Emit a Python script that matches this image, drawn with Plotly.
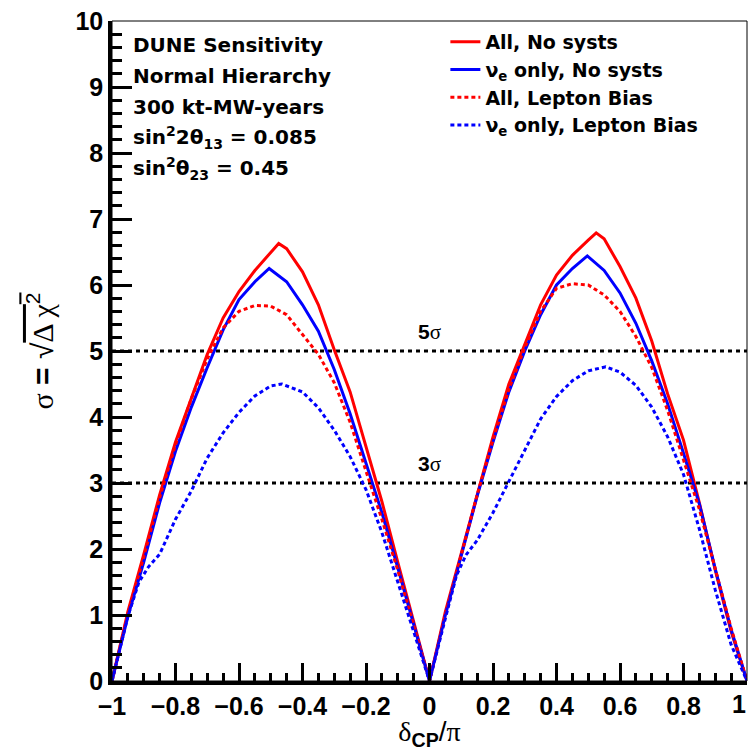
import plotly.graph_objects as go

# ---------------- data ----------------
x_all_nosyst = [-1, -0.95, -0.9, -0.85, -0.8, -0.75, -0.7, -0.65, -0.6, -0.55, -0.5, -0.475, -0.45, -0.4,
                -0.35, -0.3, -0.25, -0.2, -0.15, -0.1, -0.05, 0,
                0.05, 0.1, 0.15, 0.2, 0.25, 0.3, 0.35, 0.4, 0.45, 0.5, 0.525, 0.55, 0.6, 0.65, 0.7, 0.75,
                0.8, 0.85, 0.9, 0.95, 1]
y_all_nosyst = [0, 1.05, 1.92, 2.82, 3.62, 4.3, 4.95, 5.5, 5.9, 6.22, 6.5, 6.63, 6.55, 6.2,
                5.7, 5.02, 4.38, 3.55, 2.72, 1.8, 0.9, 0,
                1.05, 1.93, 2.85, 3.7, 4.5, 5.1, 5.7, 6.15, 6.45, 6.68, 6.79, 6.7, 6.28, 5.8, 5.15, 4.35,
                3.65, 2.7, 1.68, 0.75, 0]

x_nue_nosyst = [-1, -0.95, -0.9, -0.85, -0.8, -0.75, -0.7, -0.65, -0.6, -0.55, -0.505, -0.45, -0.4,
                -0.35, -0.3, -0.25, -0.2, -0.15, -0.1, -0.05, 0,
                0.05, 0.1, 0.15, 0.2, 0.25, 0.3, 0.35, 0.4, 0.45, 0.497, 0.55, 0.6, 0.65, 0.7, 0.75,
                0.8, 0.85, 0.9, 0.95, 1]
y_nue_nosyst = [0, 0.98, 1.8, 2.7, 3.48, 4.15, 4.75, 5.32, 5.78, 6.05, 6.25, 6.05, 5.7,
                5.3, 4.72, 4.05, 3.3, 2.55, 1.72, 0.86, 0,
                1.0, 1.88, 2.8, 3.62, 4.38, 5.0, 5.55, 6.0, 6.25, 6.44, 6.22, 5.88, 5.42, 4.85, 4.2,
                3.45, 2.68, 1.7, 0.78, 0]

x_all_lepbias = [-1, -0.95, -0.9, -0.85, -0.8, -0.75, -0.7, -0.65, -0.6, -0.55, -0.5, -0.45, -0.4,
                 -0.35, -0.3, -0.25, -0.2, -0.15, -0.1, -0.05, 0,
                 0.05, 0.1, 0.15, 0.2, 0.25, 0.3, 0.35, 0.4, 0.45, 0.5, 0.55, 0.6, 0.65, 0.7, 0.75,
                 0.8, 0.85, 0.9, 0.95, 1]
y_all_lepbias = [0, 1.02, 1.88, 2.78, 3.58, 4.28, 4.88, 5.35, 5.6, 5.69, 5.68, 5.55, 5.25,
                 4.95, 4.52, 3.92, 3.18, 2.45, 1.68, 0.85, 0,
                 1.0, 1.9, 2.82, 3.65, 4.42, 5.05, 5.6, 5.95, 6.02, 6.0, 5.85, 5.6, 5.22, 4.75, 4.1,
                 3.35, 2.6, 1.7, 0.8, 0]

x_nue_lepbias = [-1, -0.95, -0.915, -0.885, -0.85, -0.8, -0.75, -0.7, -0.65, -0.6, -0.55, -0.5, -0.465,
                 -0.4, -0.35, -0.3, -0.25, -0.2, -0.15, -0.1, -0.05, 0,
                 0.05, 0.085, 0.115, 0.15, 0.2, 0.25, 0.3, 0.35, 0.4, 0.45, 0.5, 0.555, 0.6, 0.65,
                 0.7, 0.75, 0.8, 0.85, 0.9, 0.95, 1]
y_nue_lepbias = [0, 0.98, 1.5, 1.73, 1.92, 2.45, 2.88, 3.38, 3.76, 4.07, 4.32, 4.47, 4.50,
                 4.38, 4.14, 3.8, 3.4, 2.9, 2.25, 1.5, 0.78, 0,
                 0.95, 1.6, 1.91, 2.13, 2.55, 3.02, 3.5, 3.97, 4.31, 4.55, 4.70, 4.76, 4.68, 4.48,
                 4.15, 3.7, 3.13, 2.3, 1.38, 0.55, 0]

series_names = ["All, No systs", "ν<sub>e</sub> only, No systs",
                "All, Lepton Bias", "ν<sub>e</sub> only, Lepton Bias"]

sigma_levels = [3, 5]
sigma_labels = ["3", "5"]
x_range = [-1, 1]

x_tick_vals = [-1, -0.8, -0.6, -0.4, -0.2, 0, 0.2, 0.4, 0.6, 0.8, 1]
x_tick_text = ["−1", "−0.8", "−0.6", "−0.4", "−0.2", "0", "0.2", "0.4", "0.6", "0.8", "1"]
y_tick_vals = [0, 1, 2, 3, 4, 5, 6, 7, 8, 9, 10]

info_lines = ["DUNE Sensitivity", "Normal Hierarchy", "300 kt-MW-years",
              "sin<sup>2</sup>2θ<sub>13</sub> = 0.085", "sin<sup>2</sup>θ<sub>23</sub> = 0.45"]

# ---------------- figure ----------------
SANS = "Liberation Sans"
WIDE = "DejaVu Sans"
SERIF = "Liberation Serif"
TICKFONT = dict(family=SANS, size=25, color="black", weight="bold")

fig = go.Figure()

for lvl in sigma_levels:
    fig.add_trace(go.Scatter(x=x_range, y=[lvl, lvl], mode="lines", showlegend=False,
                             line=dict(color="black", width=3, dash="4px,4px"), hoverinfo="skip"))

styles = [("#ff0000", "solid"), ("#0000ff", "solid"), ("#ff0000", "4px,3px"), ("#0000ff", "4px,3px")]
data = [(x_all_nosyst, y_all_nosyst), (x_nue_nosyst, y_nue_nosyst),
        (x_all_lepbias, y_all_lepbias), (x_nue_lepbias, y_nue_lepbias)]
for (xs, ys), name, (col, dash) in zip(data, series_names, styles):
    fig.add_trace(go.Scatter(x=xs, y=ys, mode="lines", name=name,
                             line=dict(color=col, width=3, dash=dash)))

# sigma labels
for lvl, lab in zip(sigma_levels, sigma_labels):
    fig.add_annotation(x=0, y=lvl, xref="x", yref="y", yshift=5, yanchor="bottom", xanchor="center",
                       showarrow=False,
                       text=f"<b>{lab}</b><span style='font-family:{SERIF}'>σ</span>",
                       font=dict(family=SANS, size=21, color="black"))

# info block
row_y = [45, 76, 107, 137, 168]
for txt, py in zip(info_lines, row_y):
    fig.add_annotation(x=(131 - 112) / 635, y=(681 - py) / 660, xref="paper", yref="paper",
                       xanchor="left", yanchor="middle", showarrow=False,
                       text=f"<b>{txt}</b>", font=dict(family=WIDE, size=20, color="black"))

# last x tick label, kept inside the picture at the right edge
fig.add_annotation(x=x_tick_vals[-1], y=0, xref="x", yref="paper", yshift=-23, xshift=1,
                   xanchor="right", yanchor="middle", showarrow=False,
                   text=x_tick_text[-1], font=TICKFONT)

# frame
fig.add_shape(type="rect", xref="paper", yref="paper", x0=0, x1=1, y0=0, y1=1,
              line=dict(color="black", width=1), layer="above")

fig.update_layout(
    width=749, height=751,
    margin=dict(l=112, r=2, t=21, b=70, pad=0, autoexpand=False),
    plot_bgcolor="white", paper_bgcolor="white",
    font=dict(family=SANS, color="black"),
    legend=dict(x=0.525, y=0.997, xanchor="left", yanchor="top", bgcolor="rgba(0,0,0,0)",
                font=dict(family=WIDE, size=19, color="black", weight="bold"),
                tracegroupgap=0),
    xaxis=dict(range=x_range, showgrid=False, zeroline=False,
               showline=True, linewidth=3.5, linecolor="black",
               ticks="inside", ticklen=18, tickwidth=3, tickcolor="black",
               tickvals=x_tick_vals[:-1], ticktext=x_tick_text[:-1],
               tickfont=TICKFONT,
               minor=dict(dtick=0.05, ticks="inside", ticklen=8, tickwidth=3, tickcolor="black"),
               title=dict(text=f"<span style='font-family:{SERIF}'>δ</span><sub><b>CP</b></sub>/<span style='font-family:{SERIF}'>π</span>",
                          font=dict(family=SANS, size=28, color="black"), standoff=22)),
    yaxis=dict(range=[0, 10], showgrid=False, zeroline=False,
               showline=True, linewidth=3.5, linecolor="black",
               ticks="inside", ticklen=20, tickwidth=3, tickcolor="black",
               tickvals=y_tick_vals,
               tickfont=TICKFONT,
               minor=dict(dtick=0.2, ticks="inside", ticklen=10, tickwidth=3, tickcolor="black"),
               title=dict(text=f"<span style='font-family:{SERIF}'>σ</span> <b>=</b> √<span style='text-decoration:overline'><span style='font-family:{SERIF}'>Δ χ</span><sup>2</sup></span>",
                          font=dict(family=SANS, size=30, color="black"), standoff=14)),
)

fig.write_html("out.html")
